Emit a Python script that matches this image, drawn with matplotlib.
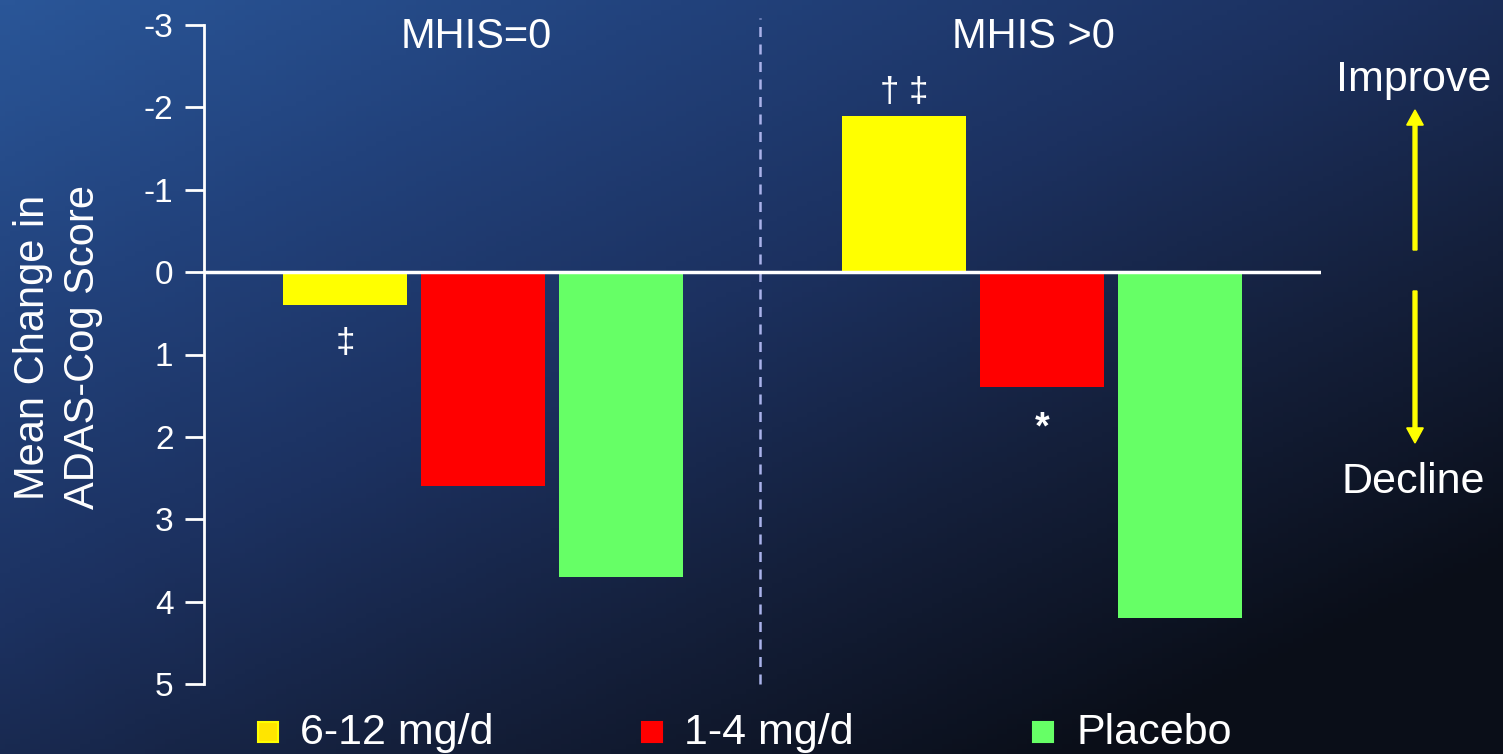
import numpy as np
import matplotlib
matplotlib.use('Agg')
import matplotlib.pyplot as plt
from matplotlib.patches import FancyArrow, Rectangle
from matplotlib.colors import LinearSegmentedColormap

plt.rcParams['font.family'] = ['Liberation Sans', 'DejaVu Sans']

# dane
grupy = ['MHIS=0', 'MHIS >0']
dawki = ['6-12 mg/d', '1-4 mg/d', 'Placebo']
kolory = ['#ffff00', '#ff0000', '#66ff66']
kolory_legendy = ['#ffe500', '#ff0000', '#66ff66']
mhis_0 = [0.4, 2.6, 3.7]
mhis_plus = [-1.9, 1.4, 4.2]
znaczniki_0 = ['‡', '', '']
znaczniki_plus = ['† ‡', '*', '']
y_ticks = [-3, -2, -1, 0, 1, 2, 3, 4, 5]

W, H = 1503, 754
fig = plt.figure(figsize=(W / 100, H / 100), dpi=100)

# tło z gradientem
tlo = fig.add_axes([0, 0, 1, 1], zorder=-10)
xx, yy = np.meshgrid(np.linspace(0, 1, 300), np.linspace(0, 1, 150))
t = np.clip(0.55 * xx + 0.6 * yy, 0, 1)
cmap_tlo = LinearSegmentedColormap.from_list('tlo', ['#2a5698', '#22427c', '#1c3160', '#141f3a', '#0a0e18'])
tlo.imshow(t, cmap=cmap_tlo, aspect='auto', extent=[0, 1, 0, 1], origin='upper')
tlo.axis('off')

ax = fig.add_axes([204 / W, 1 - 684 / H, (1321 - 204) / W, (684 - 25) / H])
ax.set_facecolor('none')

szer = 0.9
pozycje = [np.arange(3), np.arange(3) + 4.05]
for poz, wartosci, znaczniki in zip(pozycje, [mhis_0, mhis_plus], [znaczniki_0, znaczniki_plus]):
    ax.bar(poz, wartosci, width=szer, color=kolory, zorder=2)
    for x, v, z in zip(poz, wartosci, znaczniki):
        if not z:
            continue
        if v < 0:
            ax.text(x, v - 0.28, z, color='white', fontsize=25, ha='center', va='center')
        elif z == '*':
            ax.text(x, v + 0.5, z, color='white', fontsize=27, fontweight='bold', ha='center', va='center')
        else:
            ax.text(x, v + 0.47, z, color='white', fontsize=25, ha='center', va='center')

ax.axhline(0, color='white', lw=2.5, zorder=3)
ax.axvline(3.01, ymin=0, ymax=1.01, color='#aab2ea', lw=1.8, ls=(0, (4, 3)), clip_on=False)

ax.set_xlim(-1.02, 7.07)
ax.set_ylim(5, -3)
ax.set_yticks(y_ticks)
ax.set_yticklabels([str(v) for v in y_ticks])
ax.set_xticks([])
for s in ['top', 'right', 'bottom']:
    ax.spines[s].set_visible(False)
ax.spines['left'].set_color('white')
ax.spines['left'].set_linewidth(2)
ax.tick_params(axis='y', colors='white', labelsize=24, length=14, width=2, pad=8)

fig.text(58 / W, 1 - 347 / H, 'Mean Change in\nADAS-Cog Score', color='white', fontsize=30,
         rotation=90, ha='center', va='center', linespacing=1.3)

# nagłówki grup
ax.text(0.95, -2.85, grupy[0], color='white', fontsize=30, ha='center', va='center')
ax.text(4.99, -2.85, grupy[1], color='white', fontsize=30, ha='center', va='center')

# strzałki z prawej strony
fig.text(1414 / W, 1 - 80 / H, 'Improve', color='white', fontsize=31, ha='center', va='center')
fig.text(1413 / W, 1 - 482 / H, 'Decline', color='white', fontsize=31, ha='center', va='center')
fig.patches.append(FancyArrow(1415 / W, 1 - 250 / H, 0, (250 - 110) / H, width=0.0026, head_width=0.011,
                              head_length=0.02, length_includes_head=True, color='#ffff00',
                              transform=fig.transFigure))
fig.patches.append(FancyArrow(1415 / W, 1 - 291 / H, 0, -(443 - 291) / H, width=0.0026, head_width=0.011,
                              head_length=0.02, length_includes_head=True, color='#ffff00',
                              transform=fig.transFigure))

# legenda
leg_x = [258, 642, 1033]
leg_txt = [300, 684, 1076]
for x0, xt, kol, etykieta in zip(leg_x, leg_txt, kolory_legendy, dawki):
    fig.patches.append(Rectangle((x0 / W, 1 - 742 / H), 20 / W, 20 / H, facecolor=kol,
                                 edgecolor='#ffff00' if kol == '#ffe500' else kol, lw=1.5,
                                 transform=fig.transFigure))
    fig.text(xt / W, 1 - 733 / H, etykieta, color='white', fontsize=31, ha='left', va='center')

fig.savefig('out.png', dpi=100)
